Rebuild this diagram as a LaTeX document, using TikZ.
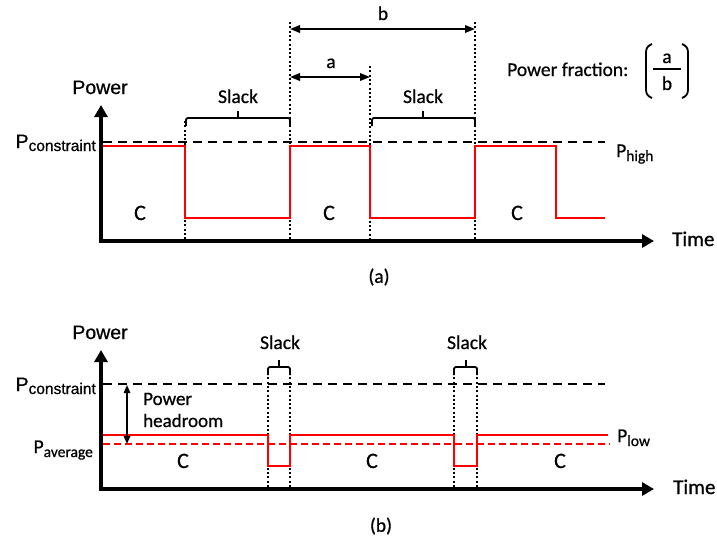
\documentclass[tikz,border=0pt]{standalone}
\usepackage{fontspec}
\setmainfont{Carlito}[UprightFeatures={FakeBold=0.7}]
\newfontfamily\arialf{Liberation Sans}[UprightFeatures={FakeBold=0.7}]
\usetikzlibrary{arrows.meta}
\newcommand{\fs}[1]{\fontsize{#1}{#1}\selectfont}
\newcommand{\PsubA}[1]{{\arialf\fs{19.5}P}{\arialf\fs{15.5}\raisebox{-3pt}{#1}}}
\newcommand{\PsubC}[1]{{\fs{19.5}P}{\fs{15.5}\raisebox{-4pt}{#1}}}
\begin{document}
\begin{tikzpicture}[x=1pt,y=-1pt,
  axis/.style={line width=3.2pt,-{Triangle[length=12pt,width=13pt]}},
  sig/.style={red,line width=2pt},
  sigdash/.style={red,line width=1.8pt,dash pattern=on 7pt off 4pt},
  limit/.style={black,line width=1.8pt,dash pattern=on 9pt off 6pt},
  markline/.style={black,line width=2pt,dash pattern=on 2pt off 2.3pt},
  dimarr/.style={line width=1.8pt,{Triangle[length=10pt,width=7.5pt]}-{Triangle[length=10pt,width=7.5pt]}},
  headarr/.style={line width=1.5pt,{Triangle[length=8pt,width=6.5pt]}-{Triangle[length=8pt,width=6.5pt]}},
  brace/.style={line width=1.8pt,rounded corners=2pt},
  lbl/.style={inner sep=0pt,font=\fs{19.5}},
  albl/.style={inner sep=0pt,font=\arialf\fs{19.5}},
  clbl/.style={inner sep=0pt,font=\fs{22}}]
\useasboundingbox (0,0) rectangle (717,542);

% ================= (a) =================
\coordinate (oa) at (101,241);
\coordinate (ya) at (101,105);
\coordinate (xa) at (654,241);
\draw[axis] ([yshift=-1.6pt]oa) -- (ya);
\draw[axis] ([xshift=-1.6pt]oa) -- (xa);

\coordinate (ca1) at (103,142);
\coordinate (ca2) at (605,142);
\draw[limit] (ca1) -- (ca2);

% marker lines
\coordinate (ma1t) at (185,121); \coordinate (ma1b) at (185,241);
\coordinate (ma2t) at (290,22);  \coordinate (ma2b) at (290,241);
\coordinate (ma3t) at (370,66);  \coordinate (ma3b) at (370,241);
\coordinate (ma4t) at (475,22);  \coordinate (ma4b) at (475,241);
\draw[markline] (ma1t) -- (ma1b);
\draw[markline] (ma2t) -- (ma2b);
\draw[markline] (ma3t) -- (ma3b);
\draw[markline] (ma4t) -- (ma4b);

% signal
\draw[sig] (103,146) -- (185,146) -- (185,218) -- (290,218) -- (290,146)
  -- (370,146) -- (370,218) -- (475,218) -- (475,146) -- (556,146)
  -- (556,218) -- (605,218);

% dimension arrows
\coordinate (bl) at (290,29); \coordinate (br) at (475,29);
\coordinate (al) at (290,77); \coordinate (ar) at (370,77);
\draw[dimarr] (bl) -- (br);
\draw[dimarr] (al) -- (ar);
\node[lbl,anchor=base] (lb) at (383,20) {b};
\node[lbl,anchor=base] (la) at (331,68) {a};

% slack braces
\draw[brace] (186,126) -- (186,118) -- (290,118) -- (290,126);
\draw[line width=1.8pt] (238,118) -- (238,111);
\node[lbl,anchor=base] (sa1) at (238,103) {Slack};
\draw[brace] (372,126) -- (372,118) -- (475,118) -- (475,126);
\draw[line width=1.8pt] (423,118) -- (423,111);
\node[lbl,anchor=base] (sa2) at (423,103) {Slack};

% labels
\node[albl,anchor=base] (pwa) at (100,94) {Power};
\node[inner sep=0pt,anchor=base east] (pca) at (96,148) {\PsubA{constraint}};
\node[inner sep=0pt,anchor=base west] (pha) at (616,157) {\PsubC{high}};
\node[inner sep=0pt,font=\fs{21},anchor=base west] (ta) at (672,246) {Time};
\node[clbl,anchor=base] (c1) at (140,220) {C};
\node[clbl,anchor=base] (c2) at (329,220) {C};
\node[clbl,anchor=base] (c3) at (517,220) {C};
\node[lbl,anchor=center] (capa) at (379,277) {(a)};

% power fraction
\node[lbl,anchor=base west] (pf) at (507,76) {Power fraction:};
\node[lbl,anchor=base] (fa) at (667,63) {a};
\node[lbl,anchor=base] (fb) at (667,90) {b};
\draw[line width=1.6pt] (653,69) -- (681,69);
\draw[line width=1.8pt] (652,44) to[out=200,in=90] (646,52) -- (646,90) to[out=-90,in=160] (652,98);
\draw[line width=1.8pt] (682,44) to[out=-20,in=90] (688,52) -- (688,90) to[out=-90,in=20] (682,98);

% ================= (b) =================
\coordinate (ob) at (101,489);
\coordinate (yb) at (101,350);
\coordinate (xb) at (654,489);
\draw[axis] ([yshift=-1.6pt]ob) -- (yb);
\draw[axis] ([xshift=-1.6pt]ob) -- (xb);

\coordinate (cb1) at (103,384);
\coordinate (cb2) at (605,384);
\draw[limit] (cb1) -- (cb2);

\coordinate (mb1t) at (268,373); \coordinate (mb1b) at (268,489);
\coordinate (mb2t) at (290,373); \coordinate (mb2b) at (290,489);
\coordinate (mb3t) at (454,373); \coordinate (mb3b) at (454,489);
\coordinate (mb4t) at (477,373); \coordinate (mb4b) at (477,489);
\draw[markline] (mb1t) -- (mb1b);
\draw[markline] (mb2t) -- (mb2b);
\draw[markline] (mb3t) -- (mb3b);
\draw[markline] (mb4t) -- (mb4b);

\draw[sigdash] (103,444) -- (610,444);
\draw[sig] (103,435) -- (268,435) -- (268,466) -- (290,466) -- (290,435)
  -- (454,435) -- (454,466) -- (477,466) -- (477,435) -- (608,435);

% slack braces
\draw[brace] (268,375) -- (268,367) -- (290,367) -- (290,375);
\draw[line width=1.8pt] (279,367) -- (279,360);
\node[lbl,anchor=base] (sb1) at (280,349) {Slack};
\draw[brace] (454,375) -- (454,367) -- (477,367) -- (477,375);
\draw[line width=1.8pt] (466,367) -- (466,360);
\node[lbl,anchor=base] (sb2) at (467,349) {Slack};

% headroom
\coordinate (ht) at (127,385);
\coordinate (hb) at (127,444);
\draw[headarr] (ht) -- (hb);
\node[inner sep=0pt,anchor=base west,font=\fs{19}] (hr1) at (143,405) {Power};
\node[inner sep=0pt,anchor=base west,font=\fs{19}] (hr2) at (143,427) {headroom};

% labels
\node[albl,anchor=base] (pwb) at (100,339) {Power};
\node[inner sep=0pt,anchor=base east] (pcb) at (96,391) {\PsubA{constraint}};
\node[inner sep=0pt,anchor=base east] (pav) at (93,453) {\PsubC{average}};
\node[inner sep=0pt,anchor=base west] (plo) at (617,442) {\PsubC{low}};
\node[inner sep=0pt,font=\fs{21},anchor=base west] (tb) at (673,494) {Time};
\node[clbl,anchor=base] (d1) at (183,468) {C};
\node[clbl,anchor=base] (d2) at (372,468) {C};
\node[clbl,anchor=base] (d3) at (560,468) {C};
\node[lbl,anchor=center] (capb) at (381,526) {(b)};
\end{tikzpicture}
\end{document}
